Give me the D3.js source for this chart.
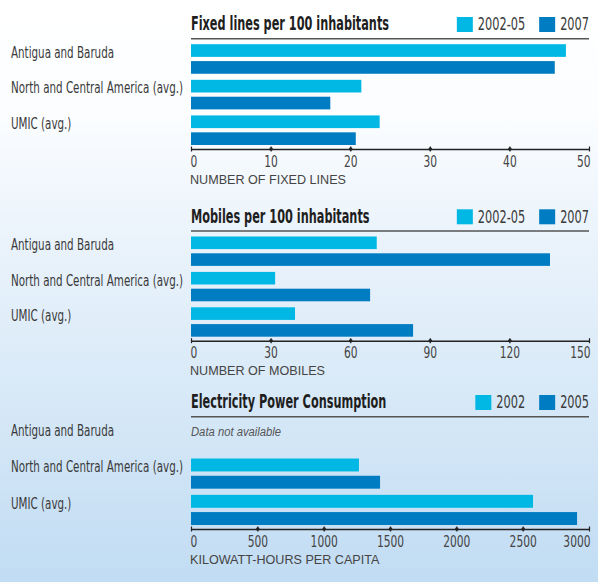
<!DOCTYPE html>
<meta charset="utf-8">
<script src="https://d3js.org/d3.v7.min.js"></script>
<style>
  body { margin: 0; }
  svg { display: block; }
</style>
<div id="chart"></div>
<script>
// data
var categories = ["Antigua and Baruda", "North and Central America (avg.)", "UMIC (avg.)"];

var fixedSeries = ["2002-05", "2007"];
var fixed2002_05 = [47.1, 21.4, 23.7];
var fixed2007 = [45.7, 17.5, 20.7];
var fixedTicks = [0, 10, 20, 30, 40, 50];

var mobileSeries = ["2002-05", "2007"];
var mobile2002_05 = [70.0, 31.7, 39.2];
var mobile2007 = [135.3, 67.5, 83.7];
var mobileTicks = [0, 30, 60, 90, 120, 150];

var elecSeries = ["2002", "2005"];
var elec2002 = [null, 1266, 2578];
var elec2005 = [null, 1425, 2910];
var elecTicks = [0, 500, 1000, 1500, 2000, 2500, 3000];

var colors = ["#00b8e3", "#007cc2"];

var W = 598, H = 582;
var left = 191, right = 589;

var condFont = "'Liberation Sans Narrow','DejaVu Sans Condensed','Liberation Sans',sans-serif";
var plainFont = "'Liberation Sans','Open Sans',sans-serif";

var svg = d3.select("#chart").append("svg")
    .attr("width", W)
    .attr("height", H);

// background gradient
var grad = svg.append("defs").append("linearGradient")
    .attr("id", "bg").attr("x1", 0).attr("y1", 0).attr("x2", 0).attr("y2", 1);
[[0, "#ffffff"], [0.2, "#fbfdff"], [0.36, "#eef5fc"], [0.7, "#d6e8f7"], [1, "#c1dcf3"]]
  .forEach(function(s) { grad.append("stop").attr("offset", s[0]).attr("stop-color", s[1]); });
svg.append("rect").attr("width", W).attr("height", H).attr("fill", "url(#bg)");

// squeeze text horizontally (condensed look); anchors are turned into start
function squeeze(sel, k) {
  sel.each(function() {
    var t = d3.select(this);
    var w = this.getComputedTextLength();
    var nw = w * k;
    var anchor = t.attr("text-anchor") || window.getComputedStyle(this).textAnchor || "start";
    var x0 = +t.attr("x") || 0;
    if (anchor === "end") x0 -= nw;
    else if (anchor === "middle") x0 -= nw / 2;
    t.attr("x", x0).attr("text-anchor", "start")
      .attr("textLength", nw).attr("lengthAdjust", "spacingAndGlyphs");
  });
}
function natural(txt, font, size, weight, style) {
  var t = svg.append("text").style("font-family", font).style("font-size", size + "px")
      .style("font-weight", weight || "normal").style("font-style", style || "normal").text(txt);
  var w = t.node().getComputedTextLength();
  t.remove();
  return w;
}
var kLabel = 172 / natural(categories[1], condFont, 15.5);
var kTitle = 198 / natural("Fixed lines per 100 inhabitants", condFont, 19, "bold");
var kAxis = 156 / natural("NUMBER OF FIXED LINES", plainFont, 13.5);

var panels = [
  {title: "Fixed lines per 100 inhabitants", series: fixedSeries, values: [fixed2002_05, fixed2007],
   ticks: fixedTicks, axisLabel: "NUMBER OF FIXED LINES", rule: 38.7, axis: 149},
  {title: "Mobiles per 100 inhabitants", series: mobileSeries, values: [mobile2002_05, mobile2007],
   ticks: mobileTicks, axisLabel: "NUMBER OF MOBILES", rule: 231, axis: 340.7},
  {title: "Electricity Power Consumption", series: elecSeries, values: [elec2002, elec2005],
   ticks: elecTicks, axisLabel: "KILOWATT-HOURS PER CAPITA", rule: 416.7, axis: 529}
];

panels.forEach(function(p) {
  var g = svg.append("g");

  var x = d3.scaleLinear()
    .domain([0, p.ticks[p.ticks.length - 1]])
    .range([left, right]);

  var y = d3.scaleBand()
    .domain(categories)
    .range([p.rule + 5.5, p.axis - 4])
    .paddingInner(0.17);

  var ySub = d3.scaleBand()
    .domain(p.series)
    .range([0, y.bandwidth()])
    .paddingInner(0.25);

  // title + rule
  g.append("text")
    .attr("x", left)
    .attr("y", p.rule - 8.5)
    .style("font-family", condFont)
    .style("font-size", "19px")
    .style("font-weight", "bold")
    .attr("fill", "#1e1e1e")
    .text(p.title)
    .call(squeeze, kTitle);

  g.append("line")
    .attr("x1", left).attr("x2", right)
    .attr("y1", p.rule).attr("y2", p.rule)
    .attr("stroke", "#555").attr("stroke-width", 1.5);

  // legend, laid out from the right
  var lx = right;
  for (var i = p.series.length - 1; i >= 0; i--) {
    var t = g.append("text")
      .attr("y", p.rule - 8.5)
      .attr("text-anchor", "end")
      .attr("x", lx)
      .style("font-family", condFont)
      .style("font-size", "17px")
      .attr("fill", "#3a3a3a")
      .text(p.series[i])
      .call(squeeze, kLabel);
    var tw = +t.attr("textLength");
    g.append("rect")
      .attr("x", lx - tw - 21)
      .attr("y", p.rule - 21.7)
      .attr("width", 16)
      .attr("height", 15)
      .attr("fill", colors[i]);
    lx = lx - tw - 35;
  }

  // category labels
  g.selectAll(".cat")
    .data(categories)
    .enter().append("text")
    .attr("class", "cat")
    .attr("x", 11)
    .attr("y", function(d) { return y(d) + ySub.bandwidth() + 1; })
    .style("font-family", condFont)
    .style("font-size", "15.5px")
    .attr("fill", "#3a3a3a")
    .text(function(d) { return d; })
    .call(squeeze, kLabel);

  // bars
  p.series.forEach(function(s, si) {
    var rows = categories.map(function(c, ci) { return {cat: c, v: p.values[si][ci]}; })
      .filter(function(d) { return d.v != null; });
    g.selectAll(".bar" + si)
      .data(rows)
      .enter().append("rect")
      .attr("x", x(0))
      .attr("y", function(d) { return y(d.cat) + ySub(s); })
      .attr("width", function(d) { return x(d.v) - x(0); })
      .attr("height", ySub.bandwidth())
      .attr("fill", colors[si]);
  });

  // missing data note
  categories.forEach(function(c, ci) {
    if (p.values[0][ci] == null && p.values[1][ci] == null) {
      g.append("text")
        .attr("x", left)
        .attr("y", y(c) + ySub.bandwidth() + 1)
        .style("font-family", plainFont)
        .style("font-size", "12.5px")
        .style("font-style", "italic")
        .attr("fill", "#555")
        .text("Data not available")
        .call(squeeze, 0.9);
    }
  });

  // axis
  var ax = g.append("g")
    .attr("transform", "translate(0," + p.axis + ")")
    .call(d3.axisBottom(x).tickValues(p.ticks).tickFormat(d3.format("d"))
      .tickSizeInner(2.5).tickSizeOuter(0).tickPadding(4));
  ax.select(".domain").attr("stroke", "#222").attr("stroke-width", 1.5);
  ax.selectAll(".tick line").attr("y1", -2.5).attr("stroke", "#222").attr("stroke-width", 1.2);
  ax.selectAll(".tick").filter(function(d, i) { return i > 0 && i < p.ticks.length - 1; })
    .append("circle").attr("r", 1.8).attr("fill", "#222");
  var n = p.ticks.length;
  ax.selectAll(".tick text")
    .attr("y", 17.5).attr("dy", null)
    .attr("x", function(d, i) { return i === 0 ? -1 : (i === n - 1 ? 1 : 0); })
    .attr("text-anchor", function(d, i) { return i === 0 ? "start" : (i === n - 1 ? "end" : "middle"); })
    .style("font-family", condFont)
    .style("font-size", "16px")
    .attr("fill", "#444")
    .call(squeeze, kLabel);

  g.append("text")
    .attr("x", left - 1)
    .attr("y", p.axis + 34.5)
    .style("font-family", plainFont)
    .style("font-size", "13.5px")
    .attr("fill", "#444")
    .text(p.axisLabel)
    .call(squeeze, kAxis);
});
</script>
